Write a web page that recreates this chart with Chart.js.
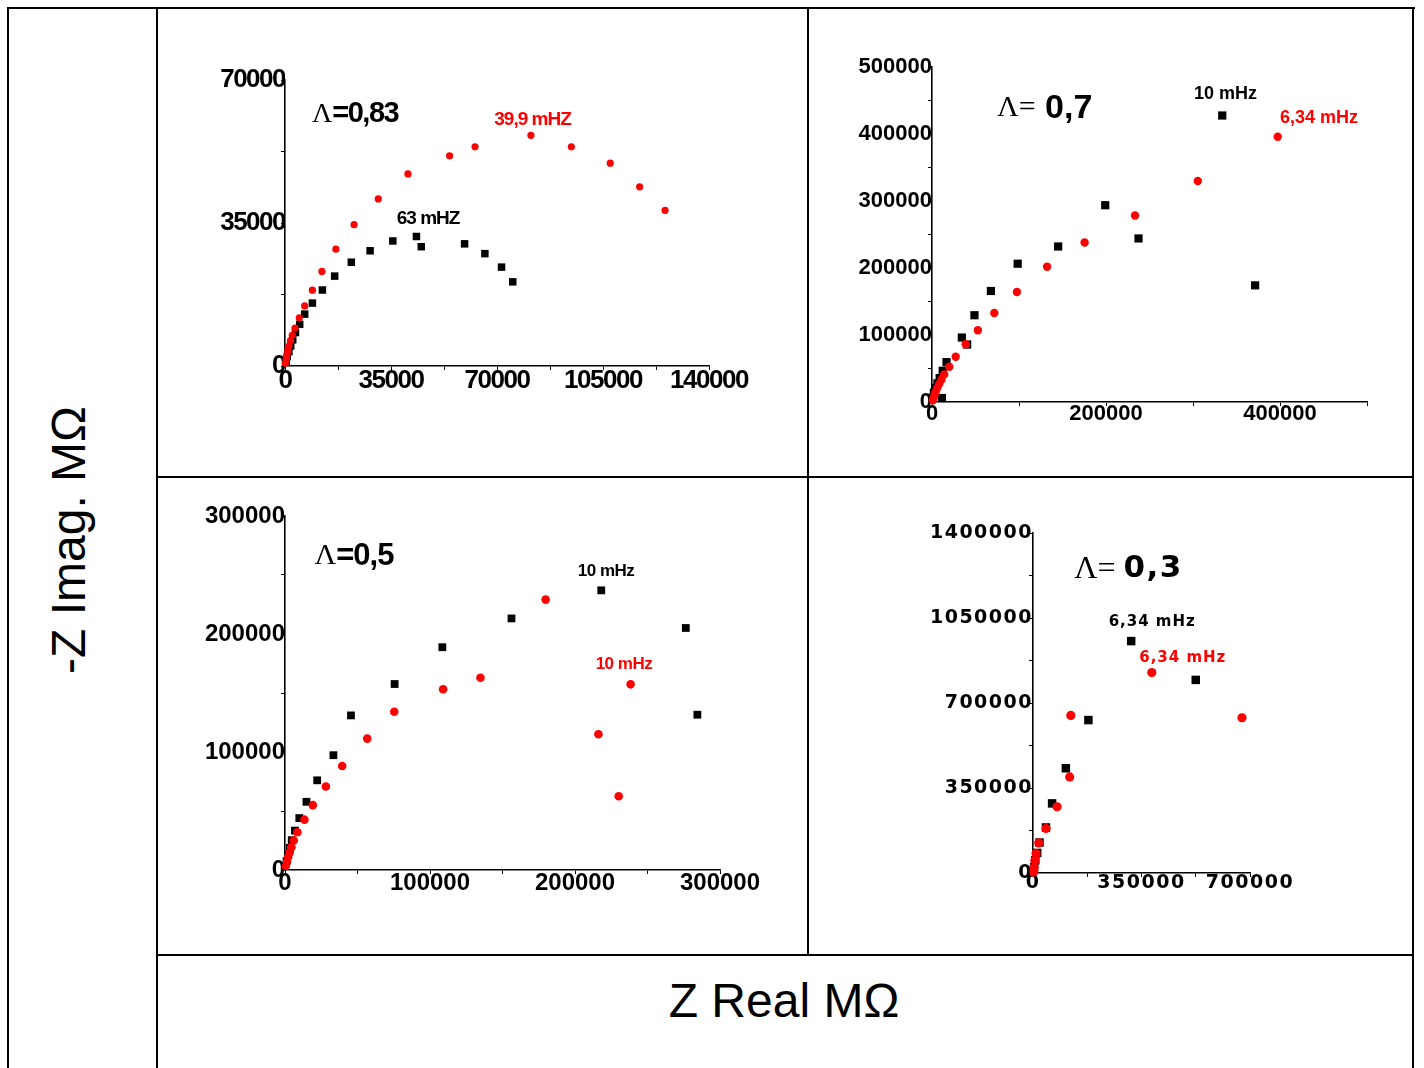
<!DOCTYPE html>
<html>
<head>
<title>Nyquist plots</title>
<script src="https://cdn.jsdelivr.net/npm/chart.js@4.4.1/dist/chart.umd.min.js"></script>
<style>
  body { margin: 0; width: 1424px; height: 1068px; position: relative; background: #fff; overflow: hidden; }
  .ln { position: absolute; background: #000; }
  canvas { position: absolute; }
  .title { position: absolute; font-family: "Liberation Sans", Arial, sans-serif; font-size: 48px; color: #000; white-space: nowrap; }
</style>
</head>
<body>
<!-- frame -->
<div class="ln" style="left:7px;top:7px;width:1408px;height:2px"></div>
<div class="ln" style="left:7px;top:7px;width:2px;height:1061px"></div>
<div class="ln" style="left:156px;top:7px;width:2px;height:1061px"></div>
<div class="ln" style="left:1412px;top:7px;width:2px;height:1061px"></div>
<div class="ln" style="left:807px;top:7px;width:2px;height:949px"></div>
<div class="ln" style="left:156px;top:476px;width:1258px;height:2px"></div>
<div class="ln" style="left:156px;top:954px;width:1258px;height:2px"></div>

<div class="title" style="left:68px;top:540px;transform:translate(-50%,-50%) rotate(-90deg)">-Z Imag. MΩ</div>
<div class="title" style="left:784px;top:1000px;transform:translate(-50%,-50%)">Z Real MΩ</div>

<canvas id="c1"></canvas>
<canvas id="c2"></canvas>
<canvas id="c3"></canvas>
<canvas id="c4"></canvas>

<script>
// ---- data (Z real, -Z imag) ----
// Λ = 0,83
var blackX1 = [400, 750, 1300, 1900, 2550, 3450, 4850, 6500, 9050, 12350, 16400, 21900, 28100, 35600, 43400, 45000, 59300, 66000, 71500, 75200];
var blackY1 = [1050, 2300, 3500, 4900, 6400, 8200, 10200, 12700, 15400, 18600, 22000, 25400, 28200, 30600, 31700, 29200, 29900, 27500, 24200, 20600];
var redX1 = [150, 400, 650, 900, 1300, 1800, 2400, 3300, 4700, 6500, 9050, 12200, 16800, 22800, 30800, 40600, 54350, 62750, 81200, 94550, 107400, 117100, 125500];
var redY1 = [650, 1650, 2600, 3750, 4900, 6200, 7500, 9300, 11800, 14700, 18550, 23150, 28600, 34600, 40900, 47000, 51450, 53650, 56450, 53650, 49650, 43850, 38100];

// Λ = 0,7
var blackX2 = [900, 2200, 4000, 6200, 8800, 12300, 16700, 11400, 34300, 40400, 48800, 67700, 98500, 145000, 199100, 237400, 333600, 371400];
var blackY2 = [6500, 13900, 20800, 27800, 35700, 46600, 59500, 5950, 96200, 85800, 129500, 165700, 206400, 232100, 293700, 244100, 427600, 174100];
var redX2 = [900, 1750, 3100, 4400, 6150, 8350, 11000, 14100, 19800, 27250, 38700, 52750, 71650, 97600, 132300, 175400, 233400, 305500, 397400];
var redY2 = [2500, 5950, 10900, 15900, 21300, 27300, 33700, 41200, 52600, 67500, 86300, 107100, 132900, 164200, 201900, 238100, 278300, 329900, 395800];

// Λ = 0,5
var blackX3 = [1100, 2200, 3300, 4650, 6850, 9850, 14800, 22200, 33400, 45500, 75600, 108500, 156200, 218100, 276400, 284400];
var blackY3 = [7550, 13200, 18800, 25250, 33400, 44000, 57800, 76000, 97300, 131000, 157600, 188800, 213200, 237000, 205100, 131600];
var redX3 = [550, 1350, 2200, 3300, 4400, 6050, 8500, 13400, 19200, 28200, 39450, 56700, 75350, 109050, 134800, 179750, 238350, 216150, 230150];
var redY3 = [3350, 7000, 10950, 15150, 19350, 24950, 32000, 42650, 55000, 70700, 88100, 111350, 134100, 153150, 162950, 229150, 157350, 115000, 62550];

// Λ = 0,3
var blackX4 = [3700, 7400, 13550, 20950, 41900, 61600, 106000, 178700, 316700, 525000];
var blackY4 = [24800, 52350, 82700, 125400, 187400, 286600, 431300, 629700, 954900, 795100];
var redX4 = [2450, 3700, 6150, 9850, 18500, 41900, 77650, 118300, 122000, 383300, 674100];
var redY4 = [4150, 24800, 52350, 79900, 124000, 183250, 272850, 395450, 649000, 825400, 639350];

// axis ranges: [max, tick step, label step]
var xAxis1 = [140000, 17500, 35000], yAxis1 = [70000, 17500, 35000];
var xAxis2 = [500000, 100000, 200000], yAxis2 = [500000, 50000, 100000];
var xAxis3 = [300000, 50000, 100000], yAxis3 = [300000, 50000, 100000];
var xAxis4 = [700000, 175000, 350000], yAxis4 = [1400000, 175000, 350000];

var SANS = '"Liberation Sans", Arial, sans-serif';
var WIDE = '"DejaVu Sans", Verdana, sans-serif';
var SERIF = '"Liberation Serif", "Times New Roman", serif';

function pts(xs, ys) {
  return xs.map(function (x, i) { return { x: x, y: ys[i] }; });
}

// draws the Λ and frequency labels, and applies letter spacing to tick labels
var panelText = {
  id: 'panelText',
  beforeDraw: function (chart, args, opts) {
    chart.ctx.letterSpacing = (opts.tickSpacing || 0) + 'px';
  },
  afterDatasetsDraw: function (chart, args, opts) {
    var ctx = chart.ctx;
    (opts.items || []).forEach(function (item) {
      var px = chart.scales.x.getPixelForValue(item.x);
      var py = chart.scales.y.getPixelForValue(item.y);
      item.parts.forEach(function (p) {
        ctx.save();
        ctx.font = p.font;
        ctx.letterSpacing = (p.spacing || 0) + 'px';
        ctx.fillStyle = p.color || '#000';
        ctx.textBaseline = 'middle';
        ctx.textAlign = 'left';
        ctx.fillText(p.text, px, py);
        px += ctx.measureText(p.text).width;
        ctx.restore();
      });
    });
  },
  afterDraw: function (chart) {
    chart.ctx.letterSpacing = '0px';
  }
};

function makePanel(id, area, xr, yr, black, red, sizes, tickFont, tickSpacing, items) {
  var YW = 120, XH = 40, PT = 20, PR = 60;
  var cv = document.getElementById(id);
  var w = YW + (area.right - area.left) + PR;
  var h = PT + (area.bottom - area.top) + XH;
  cv.width = w; cv.height = h;
  cv.style.left = (area.left - YW) + 'px';
  cv.style.top = (area.top - PT) + 'px';

  function axis(r, isY) {
    return {
      type: 'linear',
      min: 0, max: r[0],
      afterFit: function (s) { if (isY) s.width = YW; else s.height = XH; },
      afterBuildTicks: function (s) {
        var t = [];
        for (var v = 0; v <= r[0] + 1; v += r[1]) t.push({ value: v });
        s.ticks = t;
      },
      border: { display: true, color: '#000', width: 1.6 },
      grid: { drawOnChartArea: false, drawTicks: true, tickLength: 4, color: '#000', tickColor: '#000' },
      ticks: {
        autoSkip: false, maxRotation: 0, minRotation: 0,
        padding: isY ? -4 : -5,
        color: '#000',
        font: tickFont,
        callback: function (v) { return v % r[2] === 0 ? String(v) : ''; }
      }
    };
  }

  return new Chart(cv, {
    type: 'scatter',
    data: {
      datasets: [
        { data: pts(red[0], red[1]), pointStyle: 'circle', pointRadius: sizes[1], backgroundColor: '#ff0000', borderWidth: 0, pointHoverRadius: sizes[1], clip: false },
        { data: pts(black[0], black[1]), pointStyle: 'rect', pointRadius: sizes[0], backgroundColor: '#000', borderWidth: 0, pointHoverRadius: sizes[0], clip: false }
      ]
    },
    options: {
      responsive: false,
      animation: false,
      events: [],
      layout: { padding: { top: PT, right: PR, left: 0, bottom: 0 } },
      scales: { x: axis(xr, false), y: axis(yr, true) },
      plugins: {
        legend: { display: false },
        tooltip: { enabled: false },
        panelText: { tickSpacing: tickSpacing, items: items }
      }
    },
    plugins: [panelText]
  });
}

makePanel('c1', { left: 285, top: 80, right: 709, bottom: 366 }, xAxis1, yAxis1,
  [blackX1, blackY1], [redX1, redY1], [5.3, 3.6],
  { family: SANS, size: 26, weight: 'bold' }, -1.5,
  [
    { x: 8900, y: 61600, parts: [
      { text: 'Λ', font: '28px ' + SERIF },
      { text: '=0,83', font: 'bold 29px ' + SANS, spacing: -1.5 } ] },
    { x: 69100, y: 60300, parts: [{ text: '39,9 mHZ', font: 'bold 19px ' + SANS, spacing: -1, color: '#ff0000' }] },
    { x: 36900, y: 36000, parts: [{ text: '63 mHZ', font: 'bold 19px ' + SANS, spacing: -1 }] }
  ]);

makePanel('c2', { left: 932, top: 67, right: 1367, bottom: 402 }, xAxis2, yAxis2,
  [blackX2, blackY2], [redX2, redY2], [5.8, 4.2],
  { family: SANS, size: 22, weight: 'bold' }, 0,
  [
    { x: 74700, y: 438000, parts: [
      { text: 'Λ=', font: '30px ' + SERIF },
      { text: ' 0,7', font: 'bold 34px ' + SANS } ] },
    { x: 301100, y: 459000, parts: [{ text: '10 mHz', font: 'bold 18px ' + SANS }] },
    { x: 400000, y: 424000, parts: [{ text: '6,34 mHz', font: 'bold 18px ' + SANS, color: '#ff0000' }] }
  ]);

makePanel('c3', { left: 285, top: 516, right: 720, bottom: 870 }, xAxis3, yAxis3,
  [blackX3, blackY3], [redX3, redY3], [5.5, 4.3],
  { family: SANS, size: 24, weight: 'bold' }, 0,
  [
    { x: 20300, y: 265600, parts: [
      { text: 'Λ', font: '30px ' + SERIF },
      { text: '=0,5', font: 'bold 31px ' + SANS, spacing: -1 } ] },
    { x: 201900, y: 253000, parts: [{ text: '10 mHz', font: 'bold 17px ' + SANS, spacing: -0.5 }] },
    { x: 214250, y: 174400, parts: [{ text: '10 mHz', font: 'bold 17px ' + SANS, spacing: -0.5, color: '#ff0000' }] }
  ]);

makePanel('c4', { left: 1033, top: 533, right: 1250, bottom: 873 }, xAxis4, yAxis4,
  [blackX4, blackY4], [redX4, redY4], [6, 4.6],
  { family: WIDE, size: 19, weight: 'bold' }, 1.5,
  [
    { x: 133100, y: 1251000, parts: [
      { text: 'Λ= ', font: '32px ' + SERIF },
      { text: '0,3', font: 'bold 31px ' + WIDE, spacing: 1.5 } ] },
    { x: 244000, y: 1033500, parts: [{ text: '6,34 mHz', font: 'bold 15px ' + WIDE, spacing: 1 }] },
    { x: 342600, y: 886100, parts: [{ text: '6,34 mHz', font: 'bold 15px ' + WIDE, spacing: 1, color: '#ff0000' }] }
  ]);
</script>
</body>
</html>
